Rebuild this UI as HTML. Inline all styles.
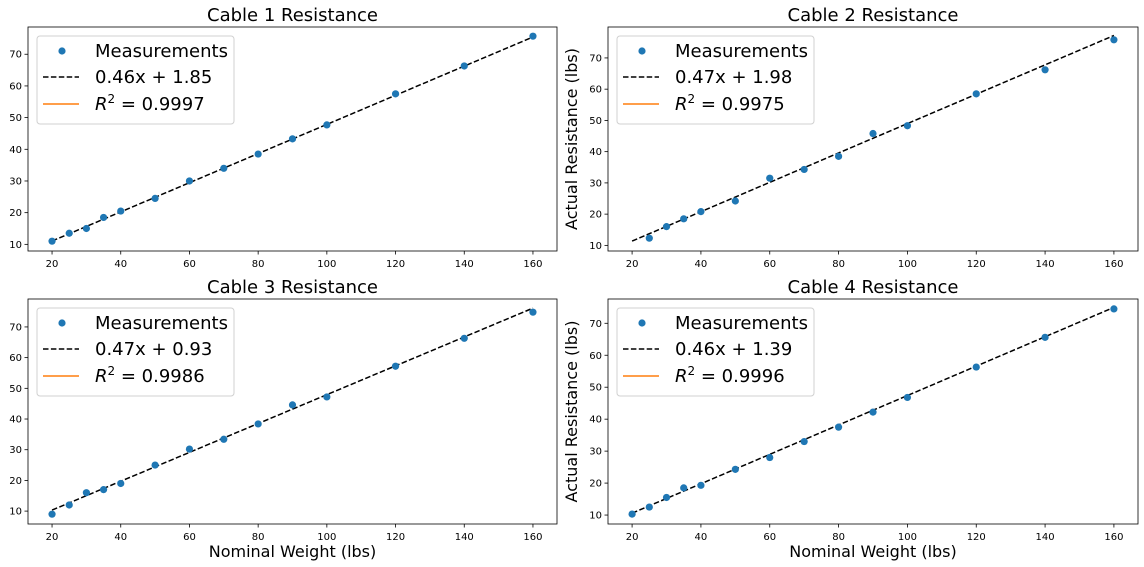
<!DOCTYPE html>
<html><head><meta charset="utf-8"><style>
html,body{margin:0;padding:0;background:#fff;}
svg{display:block;font-family:"DejaVu Sans","Liberation Sans",sans-serif;}
</style></head><body>
<svg id="fig" width="1144" height="567" viewBox="0 0 1144 567" xmlns="http://www.w3.org/2000/svg"></svg>
<script>
const xs1 = [20,25,30,35,40,50,60,70,80,90,100,120,140,160];
const ys1 = [11,13.5,15,18.5,20.5,24.5,30,34,38.5,43.3,47.7,57.5,66.3,75.7];
const xs2 = [25,30,35,40,50,60,70,80,90,100,120,140,160];
const ys2 = [12.3,16,18.5,20.8,24.2,31.5,34.3,38.5,45.8,48.3,58.5,66.2,75.8];
const xs3 = [20,25,30,35,40,50,60,70,80,90,100,120,140,160];
const ys3 = [9,12,16,17,19,25,30.2,33.4,38.4,44.6,47.2,57.2,66.3,74.8];
const xs4 = [20,25,30,35,40,50,60,70,80,90,100,120,140,160];
const ys4 = [10.3,12.5,15.5,18.5,19.3,24.3,28,33,37.5,42.2,46.8,56.3,65.6,74.5];
const slopes = [0.46,0.47,0.47,0.46];
const intercepts = [1.85,1.98,0.93,1.39];
const r2s = ["0.9997","0.9975","0.9986","0.9996"];
const titles = ["Cable 1 Resistance","Cable 2 Resistance","Cable 3 Resistance","Cable 4 Resistance"];
const xTicks = [20,40,60,80,100,120,140,160];
const yTicks = [10,20,30,40,50,60,70];

const NS="http://www.w3.org/2000/svg";
const svg=document.getElementById('fig');
function mk(tag,attrs,parent){const e=document.createElementNS(NS,tag);for(const k in attrs)e.setAttribute(k,attrs[k]);(parent||svg).appendChild(e);return e;}

const panels=[
 {L:28,T:27,R:557,B:251,ylo:7.9,yhi:78.6,xs:xs1,ys:ys1,yl:false,xl:false},
 {L:608,T:27,R:1138,B:251,ylo:8.2,yhi:79.9,xs:xs2,ys:ys2,yl:true,xl:false},
 {L:28,T:299,R:557,B:524,ylo:5.8,yhi:79.1,xs:xs3,ys:ys3,yl:false,xl:true},
 {L:608,T:299,R:1138,B:524,ylo:7.2,yhi:77.6,xs:xs4,ys:ys4,yl:true,xl:true}
];
const XLO=13,XHI=167;
panels.forEach((p,i)=>{
  const g=mk('g',{});
  
  
  const sx=v=>p.L+(v-XLO)/(XHI-XLO)*(p.R-p.L);
  const sy=v=>p.B-(v-p.ylo)/(p.yhi-p.ylo)*(p.B-p.T);
  // title
  const t=mk('text',{x:(p.L+p.R)/2,y:p.T-6,'text-anchor':'middle','font-size':18,fill:'#000'},g);
  t.textContent=titles[i];
  
  
  // ticks
  xTicks.forEach(v=>{
    const x=sx(v);
    mk('line',{x1:x,x2:x,y1:p.B,y2:p.B+3.5,stroke:'#000','stroke-width':0.8},g);
    const tl=mk('text',{x:x,y:p.B+16,'text-anchor':'middle','font-size':10,fill:'#000'},g);
    tl.textContent=v;
    
    
  });
  yTicks.forEach(v=>{
    const y=sy(v);
    mk('line',{x1:p.L-3.5,x2:p.L,y1:y,y2:y,stroke:'#000','stroke-width':0.8},g);
    const tl=mk('text',{x:p.L-6,y:y+3.5,'text-anchor':'end','font-size':10,fill:'#000'},g);
    tl.textContent=v;
    
    
  });
  // fit line
  const fl=mk('line',{x1:sx(20),y1:sy(slopes[i]*20+intercepts[i]),x2:sx(160),y2:sy(slopes[i]*160+intercepts[i]),stroke:'#000','stroke-width':1.5,'stroke-dasharray':'5.5,2.4'},g);
  
  
  // points
  p.xs.forEach((xv,j)=>{
    const c=mk('circle',{cx:sx(xv),cy:sy(p.ys[j]),r:3.6,fill:'#1f77b4'},g);
    
    
  });
  // frame
  mk('rect',{x:p.L,y:p.T,width:p.R-p.L,height:p.B-p.T,fill:'none',stroke:'#000','stroke-width':0.8},g);
  // legend
  const lg=mk('g',{},g);
  
  
  const lx=p.L+9,ly=p.T+9;
  mk('rect',{x:lx,y:ly,width:197,height:88,rx:3,fill:'#fff','fill-opacity':0.8,stroke:'#d0d0d0','stroke-width':1},lg);
  mk('circle',{cx:lx+25,cy:ly+15,r:3.6,fill:'#1f77b4'},lg);
  mk('line',{x1:lx+6,x2:lx+42,y1:ly+41,y2:ly+41,stroke:'#000','stroke-width':1.5,'stroke-dasharray':'5.5,2.4'},lg);
  mk('line',{x1:lx+6,x2:lx+42,y1:ly+68,y2:ly+68,stroke:'#ff7f0e','stroke-width':1.5},lg);
  const e1=mk('text',{x:lx+58,y:ly+21,'font-size':18,fill:'#000'},lg);e1.textContent='Measurements';
  
  
  const e2=mk('text',{x:lx+58,y:ly+47,'font-size':18,fill:'#000'},lg);e2.textContent=slopes[i].toFixed(2)+'x + '+intercepts[i].toFixed(2);
  
  
  const e3=mk('text',{x:lx+58,y:ly+74,'font-size':18,fill:'#000'},lg);
  e3.innerHTML='<tspan font-style="italic">R</tspan><tspan font-size="12" dy="-7">2</tspan><tspan dy="7"> = '+r2s[i]+'</tspan>';
  
  
  if(p.yl){
    const yl=mk('text',{x:0,y:0,transform:'translate('+(p.L-31)+','+((p.T+p.B)/2)+') rotate(-90)','text-anchor':'middle','font-size':16,fill:'#000'},g);
    yl.textContent='Actual Resistance (lbs)';
    
    
  }
  if(p.xl){
    const xl=mk('text',{x:(p.L+p.R)/2,y:p.B+33,'text-anchor':'middle','font-size':16,fill:'#000'},g);
    xl.textContent='Nominal Weight (lbs)';
    
    
  }
});
</script>
</body></html>
